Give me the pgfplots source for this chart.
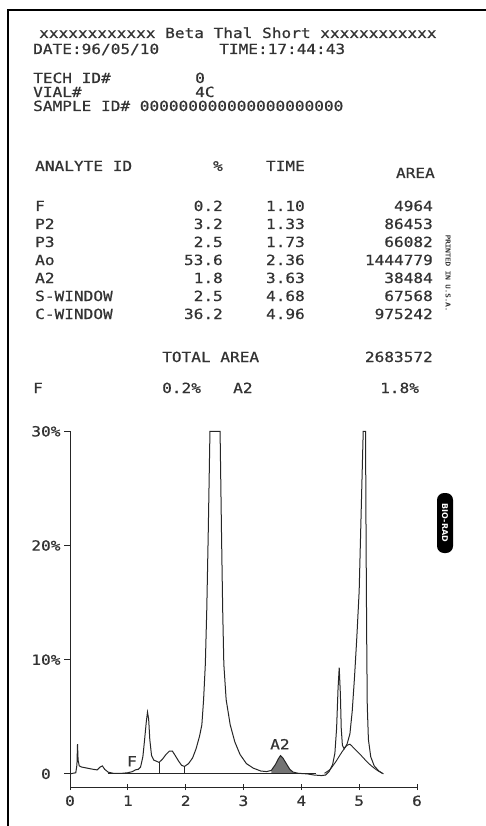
\documentclass[border=0pt]{standalone}
\usepackage{fontspec}
\setmainfont{DejaVu Sans Mono}[FakeStretch=1.15,FakeBold=0.6]
\newfontfamily\logofont{DejaVu Sans}
\usepackage{pgfplots}
\pgfplotsset{compat=1.18}
\newcommand\TL[3]{\node[anchor=base west,inner sep=0pt] at (#1pt,-#2pt) {#3};}
\newcommand\TR[3]{\node[anchor=base east,inner sep=0pt] at (#1pt,-#2pt) {#3};}
\begin{document}
\begin{tikzpicture}
\fill[white] (0pt,0pt) rectangle (486pt,-826pt);
\path[use as bounding box] (0pt,0pt) rectangle (486pt,-826pt);
\draw[line width=1.6pt] (8pt,-826pt) -- (8pt,-10pt) -- (486pt,-10pt);
\begin{scope}[font=\fontsize{14}{16}\selectfont, text=black!80]
\TL{39}{38}{xxxxxxxxxxxx Beta Thal Short xxxxxxxxxxxx}
\TL{33}{54}{DATE:96/05/10}
\TL{219}{54}{TIME:17:44:43}
\TL{33}{83}{TECH ID\#}  \TL{195}{83}{0}
\TL{33}{97}{VIAL\#}     \TL{195}{97}{4C}
\TL{33}{111}{SAMPLE ID\# 000000000000000000000}
\TL{35}{171}{ANALYTE ID} \TR{223}{171}{\%} \TR{305}{171}{TIME} \TR{435}{178}{AREA}
\TL{35}{211}{F}        \TR{223}{211}{0.2}  \TR{305}{211}{1.10} \TR{433}{211}{4964}
\TL{35}{229}{P2}       \TR{223}{229}{3.2}  \TR{305}{229}{1.33} \TR{433}{229}{86453}
\TL{35}{247}{P3}       \TR{223}{247}{2.5}  \TR{305}{247}{1.73} \TR{433}{247}{66082}
\TL{35}{265}{Ao}       \TR{223}{265}{53.6} \TR{305}{265}{2.36} \TR{433}{265}{1444779}
\TL{35}{283}{A2}       \TR{223}{283}{1.8}  \TR{305}{283}{3.63} \TR{433}{283}{38484}
\TL{35}{301}{S-WINDOW} \TR{223}{301}{2.5}  \TR{305}{301}{4.68} \TR{433}{301}{67568}
\TL{35}{319}{C-WINDOW} \TR{223}{319}{36.2} \TR{305}{319}{4.96} \TR{433}{319}{975242}
\TL{162}{362}{TOTAL AREA} \TR{433}{362}{2683572}
\TL{33}{393}{F} \TL{162}{393}{0.2\%} \TL{233}{393}{A2} \TL{380}{393}{1.8\%}
\end{scope}
\node[rotate=-90,font=\fontsize{6.5}{7}\selectfont,text=black!80,inner sep=0pt] at (448pt,-273pt) {PRINTED IN U.S.A.};
\node[fill=black,rounded corners=7pt,minimum width=60pt,minimum height=16pt,inner sep=0pt,rotate=-90,text=white,font=\logofont\bfseries\fontsize{8}{9}\selectfont] at (445pt,-523pt) {BIO-RAD};
\begin{axis}[
  at={(70pt,-787pt)}, anchor=south west,
  scale only axis, width=347pt, height=355.7pt,
  xmin=0, xmax=6, ymin=-1.15, ymax=30,
  axis x line=bottom, axis y line=left,
  axis line style={-, line width=1pt, black!85},
  xtick={0,1,2,3,4,5,6}, xticklabels={0,1,2,3,4,5,6},
  ytick={0,10,20,30}, yticklabels={0\phantom{\%},10\%,20\%,30\%},
  x tick style={line width=1pt, black!85}, y tick style={line width=1pt, black!85},
  xtick align=center, ytick align=outside,
  major tick length=6pt,
  tick label style={font=\fontsize{14}{16}\selectfont, text=black!80},
  xticklabel style={yshift=-2pt},
  clip=false,
]
% A2 shaded area
\addplot[fill=black!55, draw=none] coordinates {
 (3.48,0) (3.48,0.3) (3.55,0.8) (3.60,1.3) (3.64,1.6) (3.68,1.4) (3.74,0.9) (3.80,0.4) (3.86,0.15) (3.86,0)} -- cycle;
% integration baseline
\addplot[black!85, line width=0.9pt] coordinates {(0.66,0) (4.25,0)};
\addplot[black!85, line width=0.9pt] coordinates {(1.54,0) (1.54,1.0)};
\addplot[black!85, line width=0.9pt] coordinates {(1.98,0) (1.98,0.65)};
% broad skim curve under windows
\addplot[black!85, line width=0.9pt, smooth, tension=0.3] coordinates {
 (4.40,0.05) (4.50,0.4) (4.60,1.1) (4.70,1.9) (4.78,2.45) (4.84,2.6) (4.90,2.3) (5.00,1.8) (5.10,1.25) (5.20,0.75) (5.30,0.35) (5.40,0.05)};
% main trace
\addplot[black!85, line width=1pt] coordinates {
 (0.00,0.0) (0.10,0.1) (0.12,0.8) (0.13,2.6) (0.14,1.2) (0.16,0.7) (0.20,0.6) (0.30,0.5) (0.40,0.4)
 (0.47,0.35) (0.52,0.6) (0.56,0.7) (0.60,0.4) (0.66,0.15) (0.75,0.05) (0.90,0.05) (1.00,0.1)
 (1.08,0.2) (1.13,0.35) (1.18,0.4) (1.22,0.6) (1.26,1.5) (1.29,3.0) (1.32,4.6) (1.34,5.4)
 (1.36,4.8) (1.38,3.0) (1.41,1.6) (1.45,1.2) (1.50,1.1) (1.54,1.0) (1.60,1.3) (1.66,1.7)
 (1.72,2.0) (1.77,2.0) (1.82,1.6) (1.88,1.1) (1.93,0.75) (1.98,0.65)
 (2.05,0.9) (2.12,1.4) (2.18,2.2) (2.24,3.3) (2.28,4.3) (2.31,6.5) (2.34,9.6) (2.365,14.4)
 (2.39,21.0) (2.42,30.0) (2.595,30.0) (2.62,21.0) (2.64,14.4) (2.66,9.6) (2.70,6.5) (2.77,4.3)
 (2.85,2.8) (2.94,1.7) (3.05,0.9) (3.17,0.5) (3.30,0.25) (3.40,0.2)
 (3.48,0.3) (3.55,0.8) (3.60,1.3) (3.64,1.6) (3.68,1.4) (3.74,0.9) (3.80,0.4) (3.86,0.15)
 (3.95,0.05) (4.10,0.0) (4.22,-0.1) (4.35,-0.15) (4.42,-0.1) (4.48,0.2) (4.54,0.8) (4.58,1.8)
 (4.61,4.0) (4.635,7.5) (4.655,9.3) (4.675,7.0) (4.69,4.0) (4.71,2.5) (4.74,2.2)
 (4.79,2.6) (4.84,3.5) (4.88,5.5) (4.92,8.5) (4.96,12.0) (5.00,16.0) (5.04,24.0) (5.07,30.0)
 (5.11,30.0) (5.12,20.0) (5.13,12.0) (5.14,6.0) (5.16,3.0) (5.20,1.5) (5.26,0.7) (5.34,0.25) (5.42,0.0)};
\node[font=\fontsize{14}{16}\selectfont, text=black!80] at (axis cs:1.07,1.1) {F};
\node[font=\fontsize{14}{16}\selectfont, text=black!80] at (axis cs:3.63,2.6) {A2};
\end{axis}
\end{tikzpicture}
\end{document}
